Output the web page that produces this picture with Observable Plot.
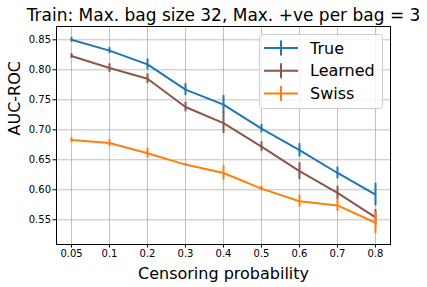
<!DOCTYPE html>
<html>
<head>
<meta charset="utf-8">
<script src="https://cdn.jsdelivr.net/npm/d3@7"></script>
<script src="https://cdn.jsdelivr.net/npm/@observablehq/plot@0.6"></script>
<style>
  html, body { margin: 0; padding: 0; background: #fff; }
  #wrap { position: relative; width: 427px; height: 287px; font-family: "DejaVu Sans", sans-serif; }
  #legend { position: absolute; left: 259px; top: 34px; }
</style>
</head>
<body>
<div id="wrap"></div>
<script>
const categories = ["0.05", "0.1", "0.2", "0.3", "0.4", "0.5", "0.6", "0.7", "0.8"];
const seriesNames = ["True", "Learned", "Swiss"];
const seriesColors = ["#1f77b4", "#8c564b", "#ff7f0e"];
const trueMean = [0.850, 0.832, 0.809, 0.767, 0.742, 0.702, 0.666, 0.628, 0.592];
const trueErr  = [0.004, 0.005, 0.009, 0.010, 0.015, 0.007, 0.011, 0.010, 0.019];
const learnedMean = [0.823, 0.803, 0.785, 0.738, 0.711, 0.672, 0.631, 0.595, 0.554];
const learnedErr  = [0.004, 0.007, 0.008, 0.008, 0.017, 0.008, 0.014, 0.011, 0.013];
const swissMean = [0.683, 0.678, 0.661, 0.642, 0.628, 0.602, 0.581, 0.574, 0.545];
const swissErr  = [0.004, 0.006, 0.008, 0.002, 0.012, 0.004, 0.010, 0.010, 0.018];
const yTicks = [0.55, 0.60, 0.65, 0.70, 0.75, 0.80, 0.85];
const titleText = "Train: Max. bag size 32, Max. +ve per bag = 3";
const xLabel = "Censoring probability";
const yLabel = "AUC-ROC";

const means = [trueMean, learnedMean, swissMean];
const errs = [trueErr, learnedErr, swissErr];
const data = [];
seriesNames.forEach((s, i) => {
  categories.forEach((c, j) => {
    data.push({series: s, x: c, y: means[i][j], lo: means[i][j] - errs[i][j], hi: means[i][j] + errs[i][j]});
  });
});

const marks = [
  Plot.gridX(categories, {stroke: "#b0b0b0", strokeOpacity: 1, strokeWidth: 0.8}),
  Plot.gridY(yTicks, {stroke: "#b0b0b0", strokeOpacity: 1, strokeWidth: 0.8}),
];
seriesNames.forEach((s, i) => {
  const d = data.filter(r => r.series === s);
  marks.push(Plot.line(d, {x: "x", y: "y", stroke: seriesColors[i], strokeWidth: 2}));
  marks.push(Plot.ruleX(d, {x: "x", y1: "lo", y2: "hi", stroke: seriesColors[i], strokeWidth: 2}));
});
marks.push(
  Plot.frame({stroke: "#000", strokeWidth: 1}),
  Plot.axisX({ticks: categories, tickSize: 3.5, tickPadding: 2, fontSize: 10, label: null, color: "#000"}),
  Plot.axisY({ticks: yTicks, tickSize: 3.5, tickPadding: 2, fontSize: 10, tickFormat: d3.format(".2f"), label: null, color: "#000"}),
  Plot.text([titleText], {frameAnchor: "top", dy: -11, fontSize: 17, lineAnchor: "middle", fill: "#000"}),
  Plot.text([xLabel], {frameAnchor: "bottom", dy: 29, fontSize: 16, lineAnchor: "middle", fill: "#000"}),
  Plot.text([yLabel], {frameAnchor: "left", dx: -42, rotate: -90, fontSize: 16, lineAnchor: "middle", fill: "#000"})
);

const chart = Plot.plot({
  width: 427,
  height: 287,
  marginTop: 26,
  marginRight: 37,
  marginBottom: 43,
  marginLeft: 56,
  style: {fontFamily: "DejaVu Sans", background: "#fff", overflow: "visible"},
  x: {type: "point", domain: categories, padding: 0.395, round: false},
  y: {domain: [0.5088, 0.8722]},
  marks
});
const wrap = document.getElementById("wrap");
wrap.appendChild(chart);

// Legend (HTML overlay with inline SVG)
const ns = "http://www.w3.org/2000/svg";
const lg = document.createElementNS(ns, "svg");
lg.setAttribute("id", "legend");
lg.setAttribute("width", 124);
lg.setAttribute("height", 75);
const box = document.createElementNS(ns, "rect");
box.setAttribute("x", 0.5); box.setAttribute("y", 0.5);
box.setAttribute("width", 123); box.setAttribute("height", 74);
box.setAttribute("rx", 3);
box.setAttribute("fill", "rgba(255,255,255,0.8)");
box.setAttribute("stroke", "#cccccc");
lg.appendChild(box);
seriesNames.forEach((s, i) => {
  const cy = 14 + i * 22.8;
  const h = document.createElementNS(ns, "line");
  h.setAttribute("x1", 5); h.setAttribute("x2", 39);
  h.setAttribute("y1", cy); h.setAttribute("y2", cy);
  h.setAttribute("stroke", seriesColors[i]); h.setAttribute("stroke-width", 2);
  lg.appendChild(h);
  const v = document.createElementNS(ns, "line");
  v.setAttribute("x1", 22); v.setAttribute("x2", 22);
  v.setAttribute("y1", cy - 7.5); v.setAttribute("y2", cy + 7.5);
  v.setAttribute("stroke", seriesColors[i]); v.setAttribute("stroke-width", 2);
  lg.appendChild(v);
  const t = document.createElementNS(ns, "text");
  t.setAttribute("x", 51); t.setAttribute("y", cy);
  t.setAttribute("dy", "0.35em");
  t.setAttribute("font-size", 16);
  t.setAttribute("font-family", "DejaVu Sans");
  t.setAttribute("fill", "#000");
  t.textContent = s;
  lg.appendChild(t);
});
wrap.appendChild(lg);
</script>
</body>
</html>
